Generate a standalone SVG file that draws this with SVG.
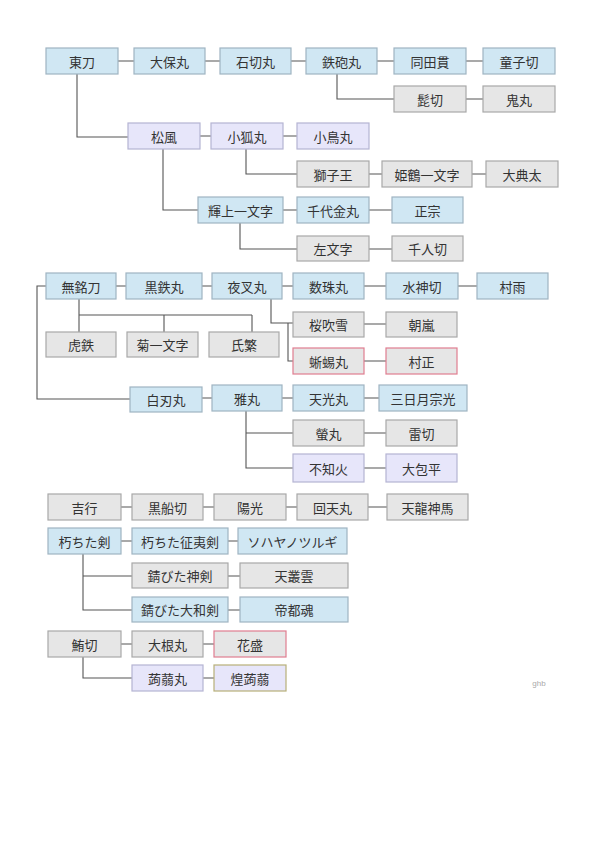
<svg xmlns="http://www.w3.org/2000/svg" width="600" height="848" viewBox="0 0 600 848">
<style>
rect{stroke-width:1.2}
.b{fill:#d0e7f3;stroke:#9fb4c2}
.g{fill:#e6e6e6;stroke:#a8a8a8}
.l{fill:#e7e6fa;stroke:#b5b4d2}
.p{stroke:#e07d90}
.o{stroke:#b8b078}
text{font-family:"Noto Sans CJK JP",sans-serif;font-size:13px;fill:#333;text-anchor:middle;dominant-baseline:central}
#c path{fill:none;stroke:#555;stroke-width:1.1}
</style>
<rect width="600" height="848" fill="#fff"/>
<g id="c">
<path d="M118 61H134M205 61H220M291 61H306M377 61H394M466 61H483"/>
<path d="M337 74V99H394M466 99H483"/>
<path d="M77 74V137H128M200 136H211M283 136H297"/>
<path d="M246 149V174H297M369 174H382M472 174H486"/>
<path d="M163 149V210H198M283 210H297M369 210H392"/>
<path d="M240 223V249H297M369 249H392"/>
<path d="M116 286H126M202 286H212M282 286H293M364 286H386M458 286H477"/>
<path d="M79 299V315H252M79 315V332M164 315V332M252 315V332"/>
<path d="M271 299V323H293M288 323V361H293M364 324H386M364 361H386"/>
<path d="M46 286H37V399H130M202 398H212M282 398H293M364 398H379"/>
<path d="M246 411V468H293M246 433H293M364 433H386M364 468H386"/>
<path d="M121 507H132M203 507H214M286 507H297M368 507H387"/>
<path d="M121 541H132M228 541H238"/>
<path d="M83 554V610H132M83 576H132M228 576H240M228 610H240"/>
<path d="M121 644H132M203 644H214M83 657V678H132M203 678H214"/>
</g>
<g id="n1"><rect class="b" x="46" y="48" width="72" height="26"/><text x="82" y="61">東刀</text></g>
<g id="n2"><rect class="b" x="134" y="48" width="71" height="26"/><text x="169.5" y="61">大保丸</text></g>
<g id="n3"><rect class="b" x="220" y="48" width="71" height="26"/><text x="255.5" y="61">石切丸</text></g>
<g id="n4"><rect class="b" x="306" y="48" width="71" height="26"/><text x="341.5" y="61">鉄砲丸</text></g>
<g id="n5"><rect class="b" x="394" y="48" width="72" height="26"/><text x="430" y="61">同田貫</text></g>
<g id="n6"><rect class="b" x="483" y="48" width="72" height="26"/><text x="519" y="61">童子切</text></g>
<g id="n7"><rect class="g" x="394" y="86" width="72" height="26"/><text x="430" y="99">髭切</text></g>
<g id="n8"><rect class="g" x="483" y="86" width="72" height="26"/><text x="519" y="99">鬼丸</text></g>
<g id="n9"><rect class="l" x="128" y="123" width="72" height="26"/><text x="164" y="136">松風</text></g>
<g id="n10"><rect class="l" x="211" y="123" width="72" height="26"/><text x="247" y="136">小狐丸</text></g>
<g id="n11"><rect class="l" x="297" y="123" width="72" height="26"/><text x="333" y="136">小鳥丸</text></g>
<g id="n12"><rect class="g" x="297" y="161" width="72" height="26"/><text x="333" y="174">獅子王</text></g>
<g id="n13"><rect class="g" x="382" y="161" width="90" height="26"/><text x="427" y="174">姫鶴一文字</text></g>
<g id="n14"><rect class="g" x="486" y="161" width="72" height="26"/><text x="522" y="174">大典太</text></g>
<g id="n15"><rect class="b" x="198" y="197" width="85" height="26"/><text x="240.5" y="210">輝上一文字</text></g>
<g id="n16"><rect class="b" x="297" y="197" width="72" height="26"/><text x="333" y="210">千代金丸</text></g>
<g id="n17"><rect class="b" x="392" y="197" width="71" height="26"/><text x="427.5" y="210">正宗</text></g>
<g id="n18"><rect class="g" x="297" y="236" width="72" height="25"/><text x="333" y="248.5">左文字</text></g>
<g id="n19"><rect class="g" x="392" y="236" width="71" height="25"/><text x="427.5" y="248.5">千人切</text></g>
<g id="n20"><rect class="b" x="46" y="273" width="70" height="26"/><text x="81" y="286">無銘刀</text></g>
<g id="n21"><rect class="b" x="126" y="273" width="76" height="26"/><text x="164" y="286">黒鉄丸</text></g>
<g id="n22"><rect class="b" x="212" y="273" width="70" height="26"/><text x="247" y="286">夜叉丸</text></g>
<g id="n23"><rect class="b" x="293" y="273" width="71" height="26"/><text x="328.5" y="286">数珠丸</text></g>
<g id="n24"><rect class="b" x="386" y="273" width="72" height="26"/><text x="422" y="286">水神切</text></g>
<g id="n25"><rect class="b" x="477" y="273" width="71" height="26"/><text x="512.5" y="286">村雨</text></g>
<g id="n26"><rect class="g" x="46" y="332" width="70" height="25"/><text x="81" y="344.5">虎鉄</text></g>
<g id="n27"><rect class="g" x="127" y="332" width="71" height="25"/><text x="162.5" y="344.5">菊一文字</text></g>
<g id="n28"><rect class="g" x="209" y="332" width="70" height="25"/><text x="244" y="344.5">氏繁</text></g>
<g id="n29"><rect class="g" x="293" y="312" width="71" height="25"/><text x="328.5" y="324.5">桜吹雪</text></g>
<g id="n30"><rect class="g" x="386" y="312" width="71" height="25"/><text x="421.5" y="324.5">朝嵐</text></g>
<g id="n31"><rect class="g p" x="293" y="348" width="71" height="26"/><text x="328.5" y="361">蜥蜴丸</text></g>
<g id="n32"><rect class="g p" x="386" y="348" width="71" height="26"/><text x="421.5" y="361">村正</text></g>
<g id="n33"><rect class="b" x="130" y="387" width="72" height="25"/><text x="166" y="399.5">白刃丸</text></g>
<g id="n34"><rect class="b" x="212" y="385" width="70" height="26"/><text x="247" y="398">雅丸</text></g>
<g id="n35"><rect class="b" x="293" y="385" width="71" height="26"/><text x="328.5" y="398">天光丸</text></g>
<g id="n36"><rect class="b" x="379" y="385" width="88" height="26"/><text x="423" y="398">三日月宗光</text></g>
<g id="n37"><rect class="g" x="293" y="420" width="71" height="26"/><text x="328.5" y="433">螢丸</text></g>
<g id="n38"><rect class="g" x="386" y="420" width="71" height="26"/><text x="421.5" y="433">雷切</text></g>
<g id="n39"><rect class="l" x="293" y="454" width="71" height="28"/><text x="328.5" y="468">不知火</text></g>
<g id="n40"><rect class="l" x="386" y="454" width="71" height="28"/><text x="421.5" y="468">大包平</text></g>
<g id="n41"><rect class="g" x="48" y="494" width="73" height="26"/><text x="84.5" y="507">吉行</text></g>
<g id="n42"><rect class="g" x="132" y="494" width="71" height="26"/><text x="167.5" y="507">黒船切</text></g>
<g id="n43"><rect class="g" x="214" y="494" width="72" height="26"/><text x="250" y="507">陽光</text></g>
<g id="n44"><rect class="g" x="297" y="494" width="71" height="26"/><text x="332.5" y="507">回天丸</text></g>
<g id="n45"><rect class="g" x="387" y="494" width="81" height="26"/><text x="427.5" y="507">天龍神馬</text></g>
<g id="n46"><rect class="b" x="48" y="528" width="73" height="26"/><text x="84.5" y="541">朽ちた剣</text></g>
<g id="n47"><rect class="b" x="132" y="528" width="96" height="26"/><text x="180" y="541">朽ちた征夷剣</text></g>
<g id="n48"><rect class="b" x="238" y="528" width="109" height="26"/><text x="292.5" y="541">ソハヤノツルギ</text></g>
<g id="n49"><rect class="g" x="132" y="563" width="96" height="25"/><text x="180" y="575.5">錆びた神剣</text></g>
<g id="n50"><rect class="g" x="240" y="563" width="108" height="25"/><text x="294" y="575.5">天叢雲</text></g>
<g id="n51"><rect class="b" x="132" y="597" width="96" height="25"/><text x="180" y="609.5">錆びた大和剣</text></g>
<g id="n52"><rect class="b" x="240" y="597" width="108" height="25"/><text x="294" y="609.5">帝都魂</text></g>
<g id="n53"><rect class="g" x="48" y="631" width="73" height="26"/><text x="84.5" y="644">鮪切</text></g>
<g id="n54"><rect class="g" x="132" y="631" width="71" height="26"/><text x="167.5" y="644">大根丸</text></g>
<g id="n55"><rect class="g p" x="214" y="631" width="72" height="26"/><text x="250" y="644">花盛</text></g>
<g id="n56"><rect class="l" x="132" y="665" width="71" height="26"/><text x="167.5" y="678">蒟蒻丸</text></g>
<g id="n57"><rect class="l o" x="214" y="665" width="72" height="26"/><text x="250" y="678">煌蒟蒻</text></g>
<text x="539" y="683" style="font-size:8px;fill:#aaa;font-family:'Liberation Sans',sans-serif">ghb</text>
</svg>
